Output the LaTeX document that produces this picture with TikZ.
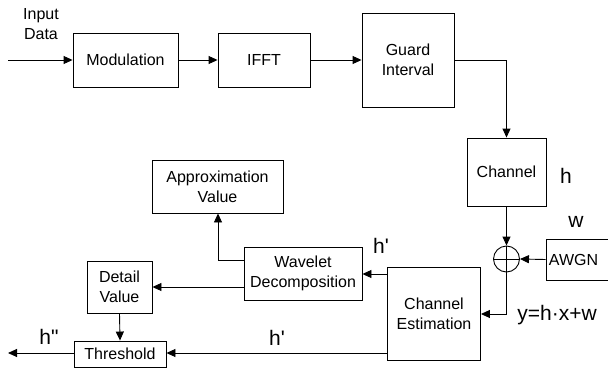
\documentclass[tikz,border=0pt]{standalone}
\usepackage{fontspec}
\setmainfont{Liberation Sans}
\usetikzlibrary{arrows.meta}
\begin{document}
\begin{tikzpicture}[x=1pt,y=-1pt,
  box/.style={draw,line width=0.9pt,align=center,inner sep=0pt,font=\fontsize{16}{20}\selectfont},
  arr/.style={line width=0.9pt,-{Triangle[length=9pt,width=8pt]}},
  ln/.style={line width=0.9pt},
  big/.style={font=\fontsize{21}{22}\selectfont,inner sep=0pt}]
\useasboundingbox (0,0) rectangle (608,369);
\clip (0,0) rectangle (608,369);
\node[box,minimum width=105pt,minimum height=54pt] (mod) at (125.5,60) {Modulation};
\node[box,minimum width=92pt,minimum height=54pt] (ifft) at (264,60) {IFFT};
\node[box,minimum width=92pt,minimum height=94pt] (guard) at (408,60) {Guard\\Interval};
\node[box,minimum width=79pt,minimum height=68pt] (chan) at (506.5,172) {Channel};
\node[draw,line width=0.9pt,circle,minimum size=26pt,inner sep=0pt] (sum) at (506.5,259) {};
\draw[ln] (sum.north) -- (sum.south) (sum.west) -- (sum.east);
\node[box,minimum width=68pt,minimum height=41pt,anchor=west,text width=64pt,align=left] (awgn) at (545.5,259.5) {\hspace{1pt}AWGN};
\node[box,minimum width=93pt,minimum height=93pt] (est) at (434,313.5) {Channel\\Estimation};
\node[box,minimum width=118pt,minimum height=53pt] (wav) at (303,273.5) {Wavelet\\Decomposition};
\node[box,minimum width=131pt,minimum height=53pt] (app) at (217.5,186.5) {Approximation\\Value};
\node[box,minimum width=65pt,minimum height=52pt] (det) at (119.5,287) {Detail\\Value};
\node[box,minimum width=92pt,minimum height=26pt] (thr) at (120,354) {Threshold};
\node[align=center,inner sep=0pt,font=\fontsize{16}{20}\selectfont] (inp) at (41,24) {Input\\Data};
\coordinate (in0) at (8,60);
\coordinate (out0) at (8,354);
\coordinate (gc) at (506.5,60);
\coordinate (sc) at (506.5,314);
\coordinate (wa) at (218,260);
\draw[arr] (in0) -- (mod.west);
\draw[arr] (mod) -- (ifft);
\draw[arr] (ifft) -- (guard);
\draw[arr] (guard.east |- gc) -- (gc) -- (chan.north);
\draw[arr] (chan.south) -- (sum.north);
\draw[arr] (awgn.west) -- (sum.east);
\draw[arr] (sum.south) -- (sc) -- (est.east |- sc);
\draw[arr] (est.west |- 0,274) -- (wav.east |- 0,274);
\draw[arr] (wav.west |- wa) -- (wa) -- (app.south -| wa);
\draw[arr] (wav.west |- 0,287) -- (det.east |- 0,287);
\draw[arr] (det.south) -- (thr.north);
\draw[arr] (est.west |- 0,353) -- (thr.east |- 0,353);
\draw[arr] (thr.west |- 0,353) -- (out0 |- 0,353);
\node[big] (lh) at (566,176) {h};
\node[big] (lw) at (576,222) {w};
\node[big] (ly) at (557,315) {y=h·x+w};
\node[big] (lh1) at (381,246) {h\textquotesingle};
\node[big] (lh2) at (277,338) {h\textquotesingle};
\node[big] (lh3) at (49,337) {h\textquotedbl};
\end{tikzpicture}
\end{document}
